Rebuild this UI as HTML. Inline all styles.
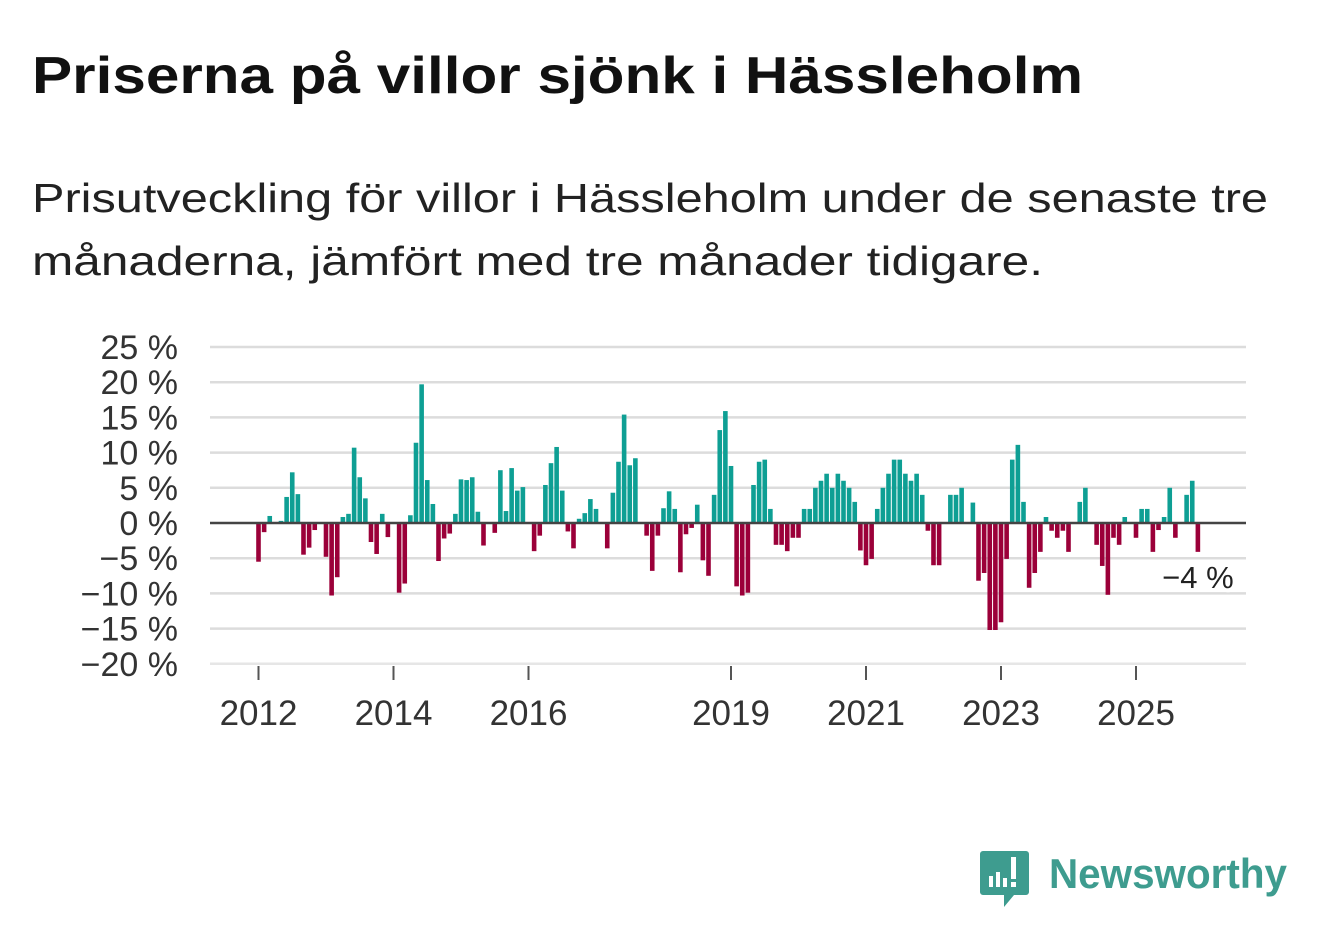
<!DOCTYPE html>
<html><head><meta charset="utf-8">
<style>
body{margin:0;background:#fff;width:1322px;height:939px;overflow:hidden}
svg{display:block;font-family:"Liberation Sans",sans-serif}
</style></head>
<body>
<svg id="chart" width="1322" height="939" viewBox="0 0 1322 939">
<text x="32" y="93" font-size="52" font-weight="bold" fill="#111" textLength="1051" lengthAdjust="spacingAndGlyphs">Priserna på villor sjönk i Hässleholm</text>
<text x="32" y="212" font-size="41" fill="#222" textLength="1236" lengthAdjust="spacingAndGlyphs">Prisutveckling för villor i Hässleholm under de senaste tre</text>
<text x="32" y="275" font-size="41" fill="#222" textLength="1011" lengthAdjust="spacingAndGlyphs">månaderna, jämfört med tre månader tidigare.</text>
<g id="grid"></g>
<g id="bars"></g>
<g id="xaxis"></g>
<g id="ann">
<text x="1197" y="588" font-size="31" fill="#fff" stroke="#fff" stroke-width="8" stroke-linejoin="round">−4 %</text>
<text x="1197" y="588" font-size="31" fill="#222" text-anchor="middle">−4 %</text>
</g>
<g>
<path d="M983 851 h43 a3 3 0 0 1 3 3 v38 a3 3 0 0 1 -3 3 h-12 l-10 12 v-12 h-21 a3 3 0 0 1 -3 -3 v-38 a3 3 0 0 1 3 -3z" fill="#3e9c8f"/>
<rect x="989" y="876" width="4" height="11" fill="#fff"/>
<rect x="996" y="872" width="4" height="15" fill="#fff"/>
<rect x="1003" y="878" width="4" height="9" fill="#fff"/>
<rect x="1011" y="857" width="5" height="22" fill="#fff"/>
<rect x="1011" y="882" width="5" height="5" fill="#fff"/>
<text x="1049" y="888" font-size="42" font-weight="bold" fill="#3e9c8f" textLength="238" lengthAdjust="spacingAndGlyphs">Newsworthy</text>
</g>
</svg>
<script>
const values = [-5.5,-1.3,1,0,0.3,3.7,7.2,4.1,-4.5,-3.5,-1,0,
-4.8,-10.3,-7.7,0.85,1.3,10.7,6.5,3.5,-2.7,-4.4,1.3,-2,
0,-9.9,-8.6,1.1,11.4,19.7,6.1,2.7,-5.4,-2.2,-1.5,1.3,
6.2,6.1,6.5,1.6,-3.2,0,-1.4,7.5,1.7,7.8,4.6,5.1,
0,-4,-1.8,5.4,8.5,10.8,4.6,-1.2,-3.6,0.6,1.4,3.4,
2,0,-3.6,4.3,8.7,15.4,8.2,9.2,0,-1.8,-6.8,-1.8,
2.1,4.5,2,-7,-1.6,-0.7,2.6,-5.3,-7.5,4,13.2,15.9,
8.1,-9,-10.3,-9.9,5.4,8.7,9,2,-3.1,-3.1,-4,-2.1,
-2.1,2,2,5,6,7,5,7,6,5,3,-3.9,
-6,-5.1,2,5,7,9,9,7,6,7,4,-1.1,
-6,-6,0,4,4,5,0,2.9,-8.2,-7.1,-15.2,-15.2,
-14.1,-5.1,9,11.1,3,-9.2,-7.1,-4.1,0.85,-1.1,-2.1,-1.1,
-4.1,0,3,5,0,-3.1,-6.1,-10.2,-2.1,-3.1,0.85,0,
-2.1,2,2,-4.1,-1,0.85,5,-2.1,0,4,6,-4.1];
const yTicks = [25,20,15,10,5,0,-5,-10,-15,-20];
const yTickLabels = ["25 %","20 %","15 %","10 %","5 %","0 %","−5 %","−10 %","−15 %","−20 %"];
const xYears = [2012,2014,2016,2019,2021,2023,2025];
const startYear = 2012;

const NS = "http://www.w3.org/2000/svg";
const x0 = 258.5, step = 5.625, plotL = 210, plotR = 1246;
function xScale(i){ return x0 + step*i; }
function yScale(v){ return 523 - v*7.04; }
function mk(tag, attrs, parent){ const e=document.createElementNS(NS,tag); for(const k in attrs) e.setAttribute(k,attrs[k]); parent.appendChild(e); return e; }

const grid = document.getElementById('grid');
yTicks.forEach((t,k)=>{
  if(t!==0){
    const l = mk('line',{x1:plotL,x2:plotR,y1:yScale(t),y2:yScale(t),stroke:t===-20?'#e6e6e6':'#dcdcdc','stroke-width':2.5},grid);
    
    
  }
  const tx = mk('text',{x:178,y:yScale(t)+12,'font-size':34,fill:'#333','text-anchor':'end'},grid);
  tx.textContent = yTickLabels[k];
  
  
});

const bars = document.getElementById('bars');
values.forEach((v,i)=>{
  if(v===0) return;
  const y = v>0 ? yScale(v) : yScale(0);
  const r = mk('rect',{x:xScale(i)-2.3,y:y,width:4.6,height:Math.abs(yScale(v)-yScale(0)),fill:v>0?'#0e9f94':'#9b0039'},bars);
  
  
});
const zl = mk('line',{x1:plotL,x2:plotR,y1:yScale(0),y2:yScale(0),stroke:'#444','stroke-width':2.5},bars);



const xa = document.getElementById('xaxis');
xYears.forEach(yr=>{
  const x = xScale((yr-startYear)*12);
  const tk = mk('line',{x1:x,x2:x,y1:666,y2:680,stroke:'#555','stroke-width':2},xa);
  
  
  const t = mk('text',{x:x,y:725,'font-size':35,fill:'#333','text-anchor':'middle'},xa);
  t.textContent = yr;
  
  
});
const lastX = xScale(values.length-1);
const annTexts = document.querySelectorAll('#ann text');
annTexts[0].setAttribute('x', lastX);
annTexts[0].setAttribute('text-anchor','middle');
annTexts[1].setAttribute('x', lastX);
</script>
</body></html>
